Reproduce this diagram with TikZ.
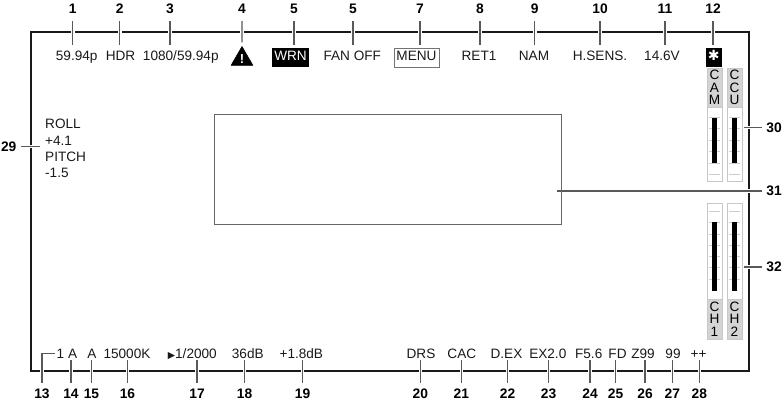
\documentclass[tikz,border=0pt]{standalone}
\usepackage{fontspec}
\setmainfont{Liberation Sans}
\newfontfamily\symfont{DejaVu Sans}
\usetikzlibrary{shapes.geometric}

\begin{document}
\begin{tikzpicture}[x=1pt, y=-1pt,
    numtop/.style={anchor=base, inner sep=0, text height=9.5pt, text depth=7pt, font=\fontsize{13.8}{14}\selectfont\bfseries},
    numbot/.style={anchor=base, inner sep=0, text height=15pt, text depth=0pt, font=\fontsize{13.8}{14}\selectfont\bfseries},
    numside/.style={inner ysep=0, inner xsep=4.6pt, font=\fontsize{13.8}{14}\selectfont\bfseries},
    txttop/.style={anchor=base, inner xsep=0, inner ysep=0, text height=16pt, text depth=3pt, font=\fontsize{13.6}{14}\selectfont, text=black!90},
    txtbot/.style={anchor=base, inner xsep=0, inner ysep=0, text height=10pt, text depth=1.5pt, font=\fontsize{13.6}{14}\selectfont, text=black!90},
    tagbox/.style={anchor=base, inner xsep=2.5pt, inner ysep=3pt, outer ysep=3pt, text height=10pt, text depth=3pt, font=\fontsize{13.6}{14}\selectfont},
    lead/.style={draw=black!65, line width=1.2pt, preaction={draw=white, line width=3.6pt}},
    meter/.style={draw=black!22, fill=white, line width=0.9pt, minimum width=15pt, inner sep=0, outer xsep=2pt},
    mlabel/.style={draw=black!22, fill=black!17, line width=0.9pt, minimum width=15pt, inner sep=0, align=center, font=\fontsize{13.6}{12.4}\selectfont},
    mbar/.style={fill=black},
    mtick/.style={draw=black!20, line width=0.7pt}]
    \useasboundingbox (0,0) rectangle (784,406);

    % frame and picture area
    \draw[draw=black!90, line width=2pt] (31,32) rectangle (749,371);
    \node[draw=black!60, line width=0.8pt, minimum width=347pt, minimum height=110pt] (screen) at (387.5,169) {};

    % top row
    \node[numtop] (n1) at (72.7,14) {1};
    \node[numtop] (n2) at (119.7,14) {2};
    \node[numtop] (n3) at (170,14) {3};
    \node[numtop] (n4) at (242,14) {4};
    \node[numtop] (n5) at (294,14) {5};
    \node[numtop] (n6) at (353,14) {5};
    \node[numtop] (n7) at (420,14) {7};
    \node[numtop] (n8) at (480,14) {8};
    \node[numtop] (n9) at (534.7,14) {9};
    \node[numtop] (n10) at (600,14) {10};
    \node[numtop] (n11) at (665,14) {11};
    \node[numtop] (n12) at (713,14) {12};

    \node[txttop] (t1) at (76.7,61) {59.94p};
    \node[txttop] (t2) at (120.5,61) {HDR};
    \node[txttop] (t3) at (180.8,61) {1080/59.94p};
    \node[regular polygon, regular polygon sides=3, fill=black, draw=black, line join=round, minimum size=22pt, inner sep=0, outer sep=2pt, text=white, font=\fontsize{13}{13}\selectfont\bfseries] (t4) at (242,59) {!};
    \node[tagbox, fill=black, text=white] (t5) at (290.5,61) {WRN};
    \node[txttop] (t6) at (352.3,61) {FAN OFF};
    \node[tagbox, draw=black!55, line width=0.7pt, text=black!90] (t7) at (416.5,61) {MENU};
    \node[txttop] (t8) at (479,61) {RET1};
    \node[txttop] (t9) at (534,61) {NAM};
    \node[txttop] (t10) at (600,61) {H.SENS.};
    \node[txttop] (t11) at (662,61) {14.6V};
    \node[tagbox, fill=black, text=white, minimum width=16pt, inner xsep=0, font=\fontsize{14}{14}\selectfont\symfont\bfseries] (t12) at (713.7,61) {✱};

    \draw[lead] (n1.south) -- (n1.south |- t1.north);
    \draw[lead] (n2.south) -- (n2.south |- t2.north);
    \draw[lead] (n3.south) -- (n3.south |- t3.north);
    \draw[lead] (n4.south) -- (t4.north);
    \draw[lead] (n5.south) -- (n5.south |- t5.north);
    \draw[lead] (n6.south) -- (n6.south |- t6.north);
    \draw[lead] (n7.south) -- (n7.south |- t7.north);
    \draw[lead] (n8.south) -- (n8.south |- t8.north);
    \draw[lead] (n9.south) -- (n9.south |- t9.north);
    \draw[lead] (n10.south) -- (n10.south |- t10.north);
    \draw[lead] (n11.south) -- (n11.south |- t11.north);
    \draw[lead] (n12.south) -- (n12.south |- t12.north);

    % bottom row
    \node[numbot] (n13) at (42,398) {13};
    \node[numbot] (n14) at (71,398) {14};
    \node[numbot] (n15) at (91.5,398) {15};
    \node[numbot] (n16) at (127.5,398) {16};
    \node[numbot] (n17) at (197,398) {17};
    \node[numbot] (n18) at (244.5,398) {18};
    \node[numbot] (n19) at (302.5,398) {19};
    \node[numbot] (n20) at (420.3,398) {20};
    \node[numbot] (n21) at (461.3,398) {21};
    \node[numbot] (n22) at (507.5,398) {22};
    \node[numbot] (n23) at (548.5,398) {23};
    \node[numbot] (n24) at (590,398) {24};
    \node[numbot] (n25) at (615.5,398) {25};
    \node[numbot] (n26) at (645,398) {26};
    \node[numbot] (n27) at (672.3,398) {27};
    \node[numbot] (n28) at (699.3,398) {28};

    \node[txtbot] (t13) at (60.5,358) {1};
    \node[txtbot] (t14) at (72.7,358) {A};
    \node[txtbot] (t15) at (92,358) {A};
    \node[txtbot] (t16) at (127,358) {15000K};
    \node[txtbot] (t17) at (192.3,358) {{\symfont\fontsize{9.5}{10}\selectfont ▶}1/2000};
    \node[txtbot] (t18) at (247.8,358) {36dB};
    \node[txtbot] (t19) at (301.3,358) {+1.8dB};
    \node[txtbot] (t20) at (421,358) {DRS};
    \node[txtbot] (t21) at (461.8,358) {CAC};
    \node[txtbot] (t22) at (506.5,358) {D.EX};
    \node[txtbot] (t23) at (547.8,358) {EX2.0};
    \node[txtbot] (t24) at (588.7,358) {F5.6};
    \node[txtbot] (t25) at (617.5,358) {FD};
    \node[txtbot] (t26) at (643,358) {Z99};
    \node[txtbot] (t27) at (673,358) {99};
    \node[txtbot] (t28) at (698.5,358) {++};

    \draw[lead] (n13.north) |- ([xshift=-2pt]t13.west);
    \draw[lead] (n14.north) -- (n14.north |- t14.south);
    \draw[lead] (n15.north) -- (n15.north |- t15.south);
    \draw[lead] (n16.north) -- (n16.north |- t16.south);
    \draw[lead] (n17.north) -- (n17.north |- t17.south);
    \draw[lead] (n18.north) -- (n18.north |- t18.south);
    \draw[lead] (n19.north) -- (n19.north |- t19.south);
    \draw[lead] (n20.north) -- (n20.north |- t20.south);
    \draw[lead] (n21.north) -- (n21.north |- t21.south);
    \draw[lead] (n22.north) -- (n22.north |- t22.south);
    \draw[lead] (n23.north) -- (n23.north |- t23.south);
    \draw[lead] (n24.north) -- (n24.north |- t24.south);
    \draw[lead] (n25.north) -- (n25.north |- t25.south);
    \draw[lead] (n26.north) -- (n26.north |- t26.south);
    \draw[lead] (n27.north) -- (n27.north |- t27.south);
    \draw[lead] (n28.north) -- (n28.north |- t28.south);

    % level meters
    \node[mlabel, minimum height=39pt] (lcam) at (714.5,87.5) {C\\A\\M};
    \node[mlabel, minimum height=39pt] (lccu) at (734.5,87.5) {C\\C\\U};
    \node[meter, minimum height=74.7pt] (mcam) at (714.5,144.4) {};
    \node[meter, minimum height=74.7pt] (mccu) at (734.5,144.4) {};
    \node[meter, minimum height=96pt] (mch1) at (714.5,251) {};
    \node[meter, minimum height=96pt] (mch2) at (734.5,251) {};
    \node[mlabel, minimum height=40pt] (lch1) at (714.5,319) {C\\H\\1};
    \node[mlabel, minimum height=40pt] (lch2) at (734.5,319) {C\\H\\2};

    \draw[mtick] (709,117) -- (720,117) (709,128.5) -- (720,128.5) (709,140) -- (720,140) (709,151.5) -- (720,151.5) (709,163) -- (720,163) (709,174) -- (720,174);
    \draw[mtick] (729,117) -- (740,117) (729,128.5) -- (740,128.5) (729,140) -- (740,140) (729,151.5) -- (740,151.5) (729,163) -- (740,163) (729,174) -- (740,174);
    \draw[mtick] (709,211) -- (720,211) (709,222) -- (720,222) (709,234) -- (720,234) (709,245) -- (720,245) (709,256) -- (720,256) (709,267.5) -- (720,267.5) (709,279) -- (720,279);
    \draw[mtick] (729,211) -- (740,211) (729,222) -- (740,222) (729,234) -- (740,234) (729,245) -- (740,245) (729,256) -- (740,256) (729,267.5) -- (740,267.5) (729,279) -- (740,279);
    \fill[mbar] (712,118) rectangle (717,163);
    \fill[mbar] (732,118) rectangle (737,163);
    \fill[mbar] (712,222) rectangle (717,290.7);
    \fill[mbar] (732,222) rectangle (737,290.7);

    % side callouts
    \node[numside] (n29) at (8.7,146.5) {29};
    \node[align=left, anchor=west, inner ysep=0, inner xsep=5pt, font=\fontsize{13.6}{16.3}\selectfont, text=black!90] (t29) at (40,148.5) {ROLL\\+4.1\\PITCH\\-1.5};
    \draw[lead] (n29.east) -- (n29.east -| t29.west);

    \node[numside] (n30) at (774,127.7) {30};
    \node[numside] (n31) at (774,191) {31};
    \node[numside] (n32) at (774,267) {32};
    \draw[lead] (n30.west) -- (n30.west -| mccu.east);
    \draw[lead] (n31.west) -- ([xshift=-4pt]n31.west -| screen.east);
    \draw[lead] (n32.west) -- (n32.west -| mch2.east);
    \draw[draw=black!60, line width=0.8pt] (screen.north east) -- (screen.south east);
\end{tikzpicture}
\end{document}
